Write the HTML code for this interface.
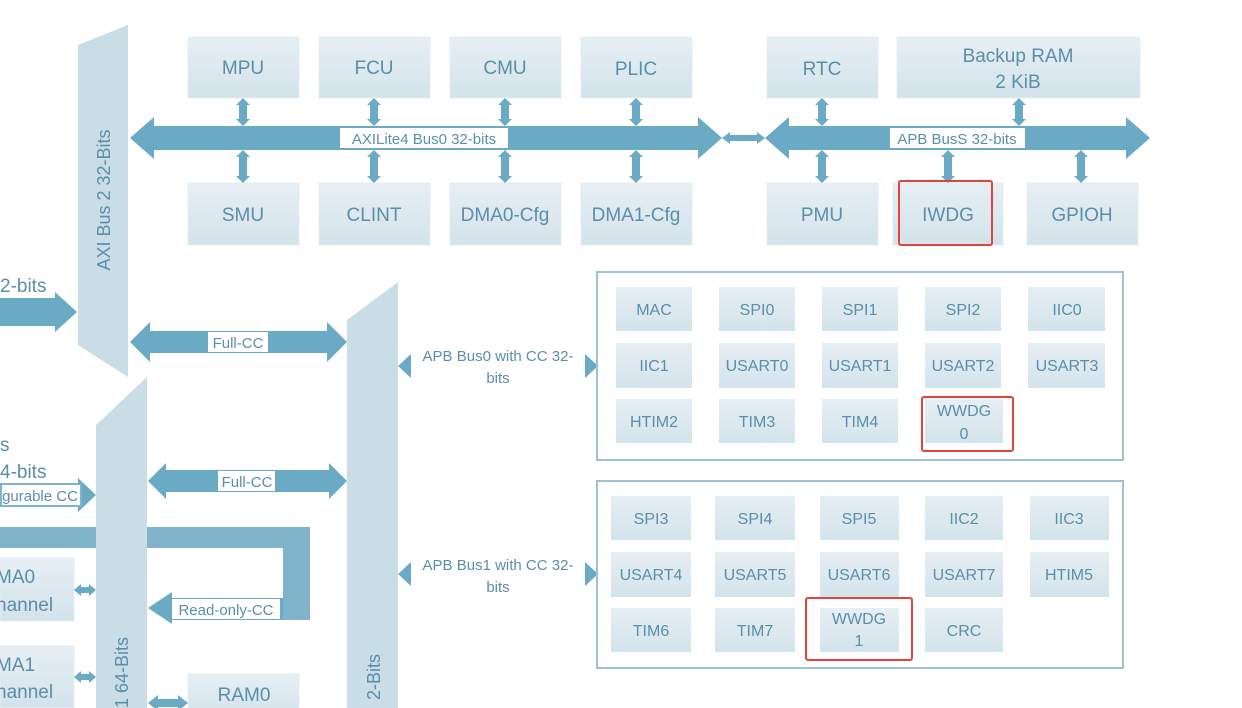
<!DOCTYPE html>
<html><head><meta charset="utf-8"><style>
html,body{margin:0;padding:0;background:#fff;width:1242px;height:708px;overflow:hidden}
svg text{font-family:"Liberation Sans",sans-serif;fill:#5b8ea8}
</style></head><body>
<svg width="1242" height="708" viewBox="0 0 1242 708" xmlns="http://www.w3.org/2000/svg">
<defs>
<linearGradient id="bx" x1="0" y1="0" x2="0" y2="1"><stop offset="0" stop-color="#e6eff4"/><stop offset="1" stop-color="#d3e3eb"/></linearGradient>
<polygon id="va" points="0,0 7,7 4,7 4,21 7,21 0,28 -7,21 -4,21 -4,7 -7,7" fill="#6aaac4"/>
<polygon id="vb" points="0,0 7,7 4,7 4,26 7,26 0,33 -7,26 -4,26 -4,7 -7,7" fill="#6aaac4"/>
<polygon id="ha" points="0,0 7,-6 7,-3 15,-3 15,-6 22,0 15,6 15,3 7,3 7,6" fill="#6aaac4"/>
</defs>
<g fill="#c9dde7">
<polygon points="78,45 128,25 128,377 78,345"/>
<polygon points="347,320 398,282 398,708 347,708"/>
</g>
<text transform="translate(110,200) rotate(-90)" font-size="18" text-anchor="middle">AXI Bus 2 32-Bits</text>
<text transform="translate(380,700) rotate(-90)" font-size="18" text-anchor="start">2-Bits</text>

<!-- thick bar -->
<g fill="#7fb4cb"><rect x="0" y="527" width="310" height="21"/><rect x="283" y="527" width="27" height="93"/></g>
<polygon points="96,425 147,377 147,708 96,708" fill="#c9dde7"/>
<text transform="translate(128,708) rotate(-90)" font-size="18">1 64-Bits</text>

<!-- top boxes -->
<g fill="url(#bx)" stroke="#e3edf2">
<rect x="188" y="37" width="111" height="61"/><rect x="319" y="37" width="111" height="61"/><rect x="450" y="37" width="111" height="61"/><rect x="581" y="37" width="111" height="61"/>
<rect x="767" y="37" width="111" height="61"/><rect x="897" y="37" width="243" height="61"/>
<rect x="188" y="183" width="111" height="62"/><rect x="319" y="183" width="111" height="62"/><rect x="450" y="183" width="111" height="62"/><rect x="581" y="183" width="111" height="62"/>
<rect x="767" y="183" width="111" height="62"/><rect x="893" y="183" width="110" height="62"/><rect x="1027" y="183" width="111" height="62"/>
<rect x="0" y="558" width="74" height="63"/><rect x="0" y="646" width="74" height="62"/>
<rect x="188" y="674" width="111" height="40"/>
</g>
<g font-size="19" text-anchor="middle">
<text x="243" y="74">MPU</text><text x="374" y="74">FCU</text><text x="505" y="74">CMU</text><text x="636" y="75">PLIC</text>
<text x="822" y="75">RTC</text><text x="1018" y="62">Backup RAM</text><text x="1018" y="88">2 KiB</text>
<text x="243" y="221">SMU</text><text x="374" y="221">CLINT</text><text x="505" y="221">DMA0-Cfg</text><text x="636" y="221">DMA1-Cfg</text>
<text x="822" y="221">PMU</text><text x="948" y="221">IWDG</text><text x="1082" y="221">GPIOH</text>
<text x="244" y="701">RAM0</text>
</g>
<g font-size="19"><text x="-4" y="583">MA0</text><text x="-4" y="611">hannel</text><text x="-4" y="671">MA1</text><text x="-4" y="698">hannel</text>
<text x="0" y="292">2-bits</text><text x="0" y="451">s</text><text x="0" y="478">4-bits</text></g>

<!-- buses -->
<g fill="#6aaac4">
<polygon points="130,138 154,117 154,126 698,126 698,117 722,138 698,159 698,150 154,150 154,159"/>
<polygon points="722,138 730,132 730,135 757,135 757,132 765,138 757,144 757,141 730,141 730,144"/>
<polygon points="765,138 789,117 789,126 1126,126 1126,117 1150,138 1126,159 1126,150 789,150 789,159"/>
<polygon points="130,342 150,322 150,331 327,331 327,322 347,342 327,362 327,353 150,353 150,362"/>
<polygon points="148,481 166,463 166,470 329,470 329,463 347,481 329,499 329,492 166,492 166,499"/>
<polygon points="0,298 55,298 55,292 77,312 55,332 55,326 0,326"/>
<polygon points="78,478 96,495 78,512"/>
<polygon points="148,608 172,592 172,598 283,598 283,620 172,620 172,624"/>
<polygon points="148,703 158,695 158,699 178,699 178,695 188,703 178,711 178,707 158,707 158,711"/>
<polygon points="398,366 411,354 411,378"/><polygon points="598,366 585,354 585,378"/>
<polygon points="398,574 411,562 411,586"/><polygon points="598,574 585,562 585,586"/>
</g>
<rect x="1" y="484" width="80" height="22" fill="#fff" stroke="#7fb4cb" stroke-width="2"/>
<use href="#ha" x="74" y="590"/><use href="#ha" x="74" y="677"/>
<g>
<use href="#va" x="243" y="98"/><use href="#va" x="374" y="98"/><use href="#va" x="505" y="98"/><use href="#va" x="636" y="98"/><use href="#va" x="822" y="98"/><use href="#va" x="1019" y="98"/>
<use href="#vb" x="243" y="150"/><use href="#vb" x="374" y="150"/><use href="#vb" x="505" y="150"/><use href="#vb" x="636" y="150"/><use href="#vb" x="822" y="150"/><use href="#vb" x="948" y="150"/><use href="#vb" x="1081" y="150"/>
</g>
<g fill="#fff"><rect x="340" y="128" width="168" height="20"/><rect x="890" y="128" width="135" height="20"/>
<rect x="208" y="332" width="60" height="20"/><rect x="218" y="471" width="57" height="20"/><rect x="172" y="599" width="108" height="20"/></g>
<g font-size="15" text-anchor="middle">
<text x="424" y="144">AXILite4 Bus0 32-bits</text><text x="957" y="144">APB BusS 32-bits</text>
<text x="238" y="348">Full-CC</text><text x="247" y="487">Full-CC</text><text x="226" y="615">Read-only-CC</text>
<text x="40" y="501">gurable CC</text>
<text x="498" y="361">APB Bus0 with CC 32-</text><text x="498" y="383">bits</text>
<text x="498" y="570">APB Bus1 with CC 32-</text><text x="498" y="592">bits</text>
</g>

<!-- groups -->
<g fill="none" stroke="#9cc3d4" stroke-width="2"><rect x="597" y="272" width="526" height="188"/><rect x="597" y="481" width="526" height="187"/></g>
<g fill="url(#bx)">
<rect x="616" y="287" width="76" height="44"/><rect x="719" y="287" width="76" height="44"/><rect x="822" y="287" width="76" height="44"/><rect x="925" y="287" width="76" height="44"/><rect x="1028" y="287" width="77" height="44"/>
<rect x="616" y="343" width="76" height="45"/><rect x="719" y="343" width="76" height="45"/><rect x="822" y="343" width="76" height="45"/><rect x="925" y="343" width="76" height="45"/><rect x="1028" y="343" width="77" height="45"/>
<rect x="616" y="399" width="76" height="44"/><rect x="719" y="399" width="76" height="44"/><rect x="822" y="399" width="76" height="44"/><rect x="925" y="399" width="78" height="44"/>
<rect x="611" y="496" width="80" height="44"/><rect x="715" y="496" width="80" height="44"/><rect x="820" y="496" width="79" height="44"/><rect x="925" y="496" width="78" height="44"/><rect x="1030" y="496" width="79" height="44"/>
<rect x="611" y="552" width="80" height="45"/><rect x="715" y="552" width="80" height="45"/><rect x="820" y="552" width="79" height="45"/><rect x="925" y="552" width="78" height="45"/><rect x="1030" y="552" width="79" height="45"/>
<rect x="611" y="608" width="80" height="44"/><rect x="715" y="608" width="80" height="44"/><rect x="820" y="608" width="79" height="44"/><rect x="925" y="608" width="78" height="44"/>
</g>
<g font-size="16" text-anchor="middle">
<text x="654" y="315">MAC</text><text x="757" y="315">SPI0</text><text x="860" y="315">SPI1</text><text x="963" y="315">SPI2</text><text x="1067" y="315">IIC0</text>
<text x="654" y="371">IIC1</text><text x="757" y="371">USART0</text><text x="860" y="371">USART1</text><text x="963" y="371">USART2</text><text x="1067" y="371">USART3</text>
<text x="654" y="427">HTIM2</text><text x="757" y="427">TIM3</text><text x="860" y="427">TIM4</text><text x="964" y="416">WWDG</text><text x="964" y="439">0</text>
<text x="651" y="524">SPI3</text><text x="755" y="524">SPI4</text><text x="859" y="524">SPI5</text><text x="964" y="524">IIC2</text><text x="1069" y="524">IIC3</text>
<text x="651" y="580">USART4</text><text x="755" y="580">USART5</text><text x="859" y="580">USART6</text><text x="964" y="580">USART7</text><text x="1069" y="580">HTIM5</text>
<text x="651" y="636">TIM6</text><text x="755" y="636">TIM7</text><text x="859" y="624">WWDG</text><text x="859" y="646">1</text><text x="964" y="636">CRC</text>
</g>
<g fill="none" stroke="#e0443a" stroke-width="2">
<rect x="899" y="181" width="93" height="64" rx="2"/><rect x="922" y="397" width="91" height="54" rx="2"/><rect x="806" y="598" width="106" height="62" rx="2"/>
</g>
</svg>
</body></html>
